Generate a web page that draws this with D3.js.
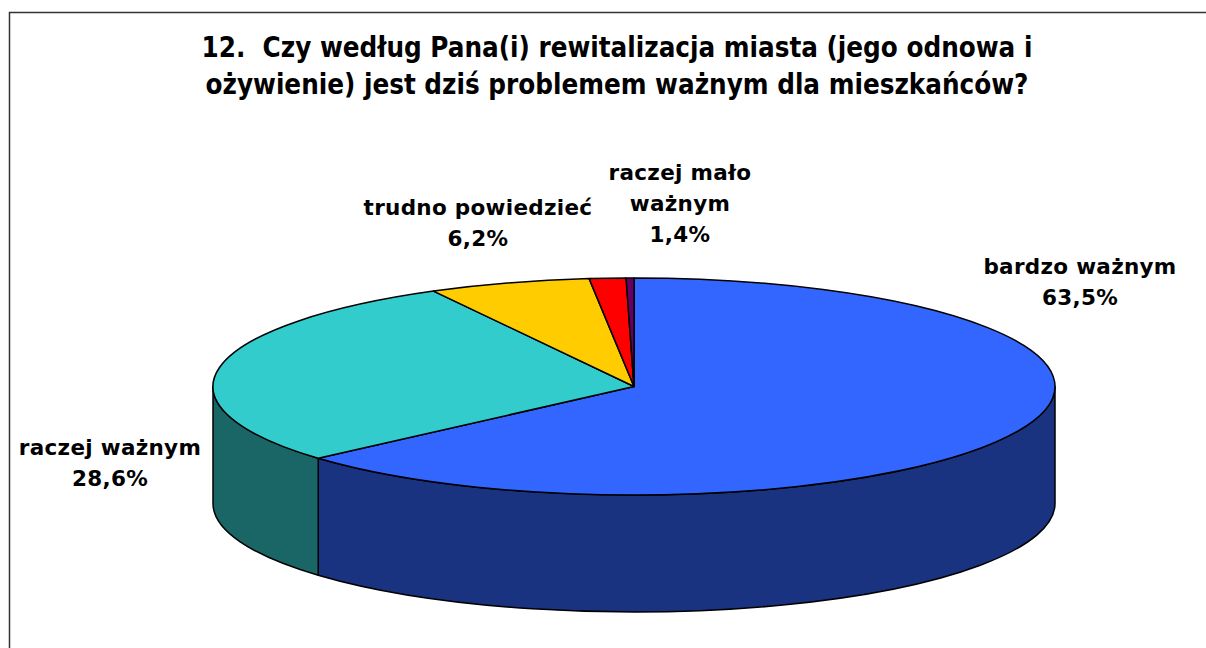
<!DOCTYPE html>
<html>
<head>
<meta charset="utf-8">
<script src="https://cdn.jsdelivr.net/npm/d3@7"></script>
<style>
  html, body { margin: 0; padding: 0; background: #fff; }
  svg { display: block; }
  text { font-family: "DejaVu Sans", Verdana, sans-serif; font-weight: bold; fill: #000; }
  .title { font-family: "DejaVu Sans Condensed", "DejaVu Sans", sans-serif; font-size: 27.5px; white-space: pre; }
  .lbl { font-size: 21.5px; letter-spacing: 0.3px; }
</style>
</head>
<body>
<svg id="chart" width="1206" height="648"></svg>
<script>
const categories = ['bardzo ważnym', 'raczej ważnym', 'trudno powiedzieć', 'raczej mało ważnym', ''];
const values = [63.5, 28.6, 6.2, 1.4, 0.3];
const valueLabels = ['63,5%', '28,6%', '6,2%', '1,4%', null];
const topColors = ['#3366FF', '#33CCCC', '#FFCC00', '#FF0000', '#660066'];
const sideColors = ['#1A3380', '#1A6666', '#806600', '#800000', '#330033'];
const titleLines = ['12.  Czy według Pana(i) rewitalizacja miasta (jego odnowa i',
                    'ożywienie) jest dziś problemem ważnym dla mieszkańców?'];

const svg = d3.select('#chart');
const width = +svg.attr('width');

// frame
svg.append('path')
  .attr('d', 'M9.5,648 L9.5,12.5 L1206,12.5')
  .attr('fill', 'none').attr('stroke', '#333').attr('stroke-width', 1.5);

// title
svg.append('g').selectAll('text')
  .data(titleLines)
  .join('text')
  .attr('class', 'title')
  .attr('x', 617)
  .attr('y', (d, i) => 57 + i * 37)
  .attr('text-anchor', 'middle')
  .text(d => d);

// pie geometry
const cx = 634, cy = 386.5, rx = 421, ry = 108.5, depth = 117;
const pie = d3.pie().sort(null).value(d => d.value);
const arcs = pie(values.map((v, i) => ({value: v, i})));

const pt = (a, dy = 0) => [cx + rx * Math.sin(a), cy - ry * Math.cos(a) + dy];

function sidePath(a0, a1) {
  const s = Math.max(a0, Math.PI / 2), e = Math.min(a1, 3 * Math.PI / 2);
  if (e <= s) return null;
  const [x0, y0] = pt(s), [x1, y1] = pt(e);
  const large = (e - s) > Math.PI ? 1 : 0;
  return `M${x0},${y0} A${rx},${ry} 0 ${large} 1 ${x1},${y1} L${x1},${y1 + depth} ` +
         `A${rx},${ry} 0 ${large} 0 ${x0},${y0 + depth} Z`;
}

function topPath(a0, a1) {
  const [x0, y0] = pt(a0), [x1, y1] = pt(a1);
  const large = (a1 - a0) > Math.PI ? 1 : 0;
  return `M${cx},${cy} L${x0},${y0} A${rx},${ry} 0 ${large} 1 ${x1},${y1} Z`;
}

const sides = svg.append('g');
arcs.forEach(d => {
  const p = sidePath(d.startAngle, d.endAngle);
  if (p) sides.append('path').attr('d', p)
    .attr('fill', sideColors[d.data.i]).attr('stroke', '#000').attr('stroke-width', 1.5)
    .attr('stroke-linejoin', 'round');
});

svg.append('g').selectAll('path')
  .data(arcs)
  .join('path')
  .attr('d', d => topPath(d.startAngle, d.endAngle))
  .attr('fill', d => topColors[d.data.i])
  .attr('stroke', '#000')
  .attr('stroke-width', 1.5)
  .attr('stroke-linejoin', 'round');

// data labels
const labelPos = [[1080, 274], [110, 455], [478, 215], [680, 180]];
const labelLines = [['bardzo ważnym'], ['raczej ważnym'], ['trudno powiedzieć'], ['raczej mało', 'ważnym']];
const lg = svg.append('g');
labelLines.forEach((lines, i) => {
  const all = lines.concat([valueLabels[i]]);
  lg.append('text')
    .attr('class', 'lbl')
    .attr('text-anchor', 'middle')
    .selectAll('tspan')
    .data(all)
    .join('tspan')
    .attr('x', labelPos[i][0])
    .attr('y', (d, k) => labelPos[i][1] + k * 31)
    .text(d => d);
});
</script>
</body>
</html>
